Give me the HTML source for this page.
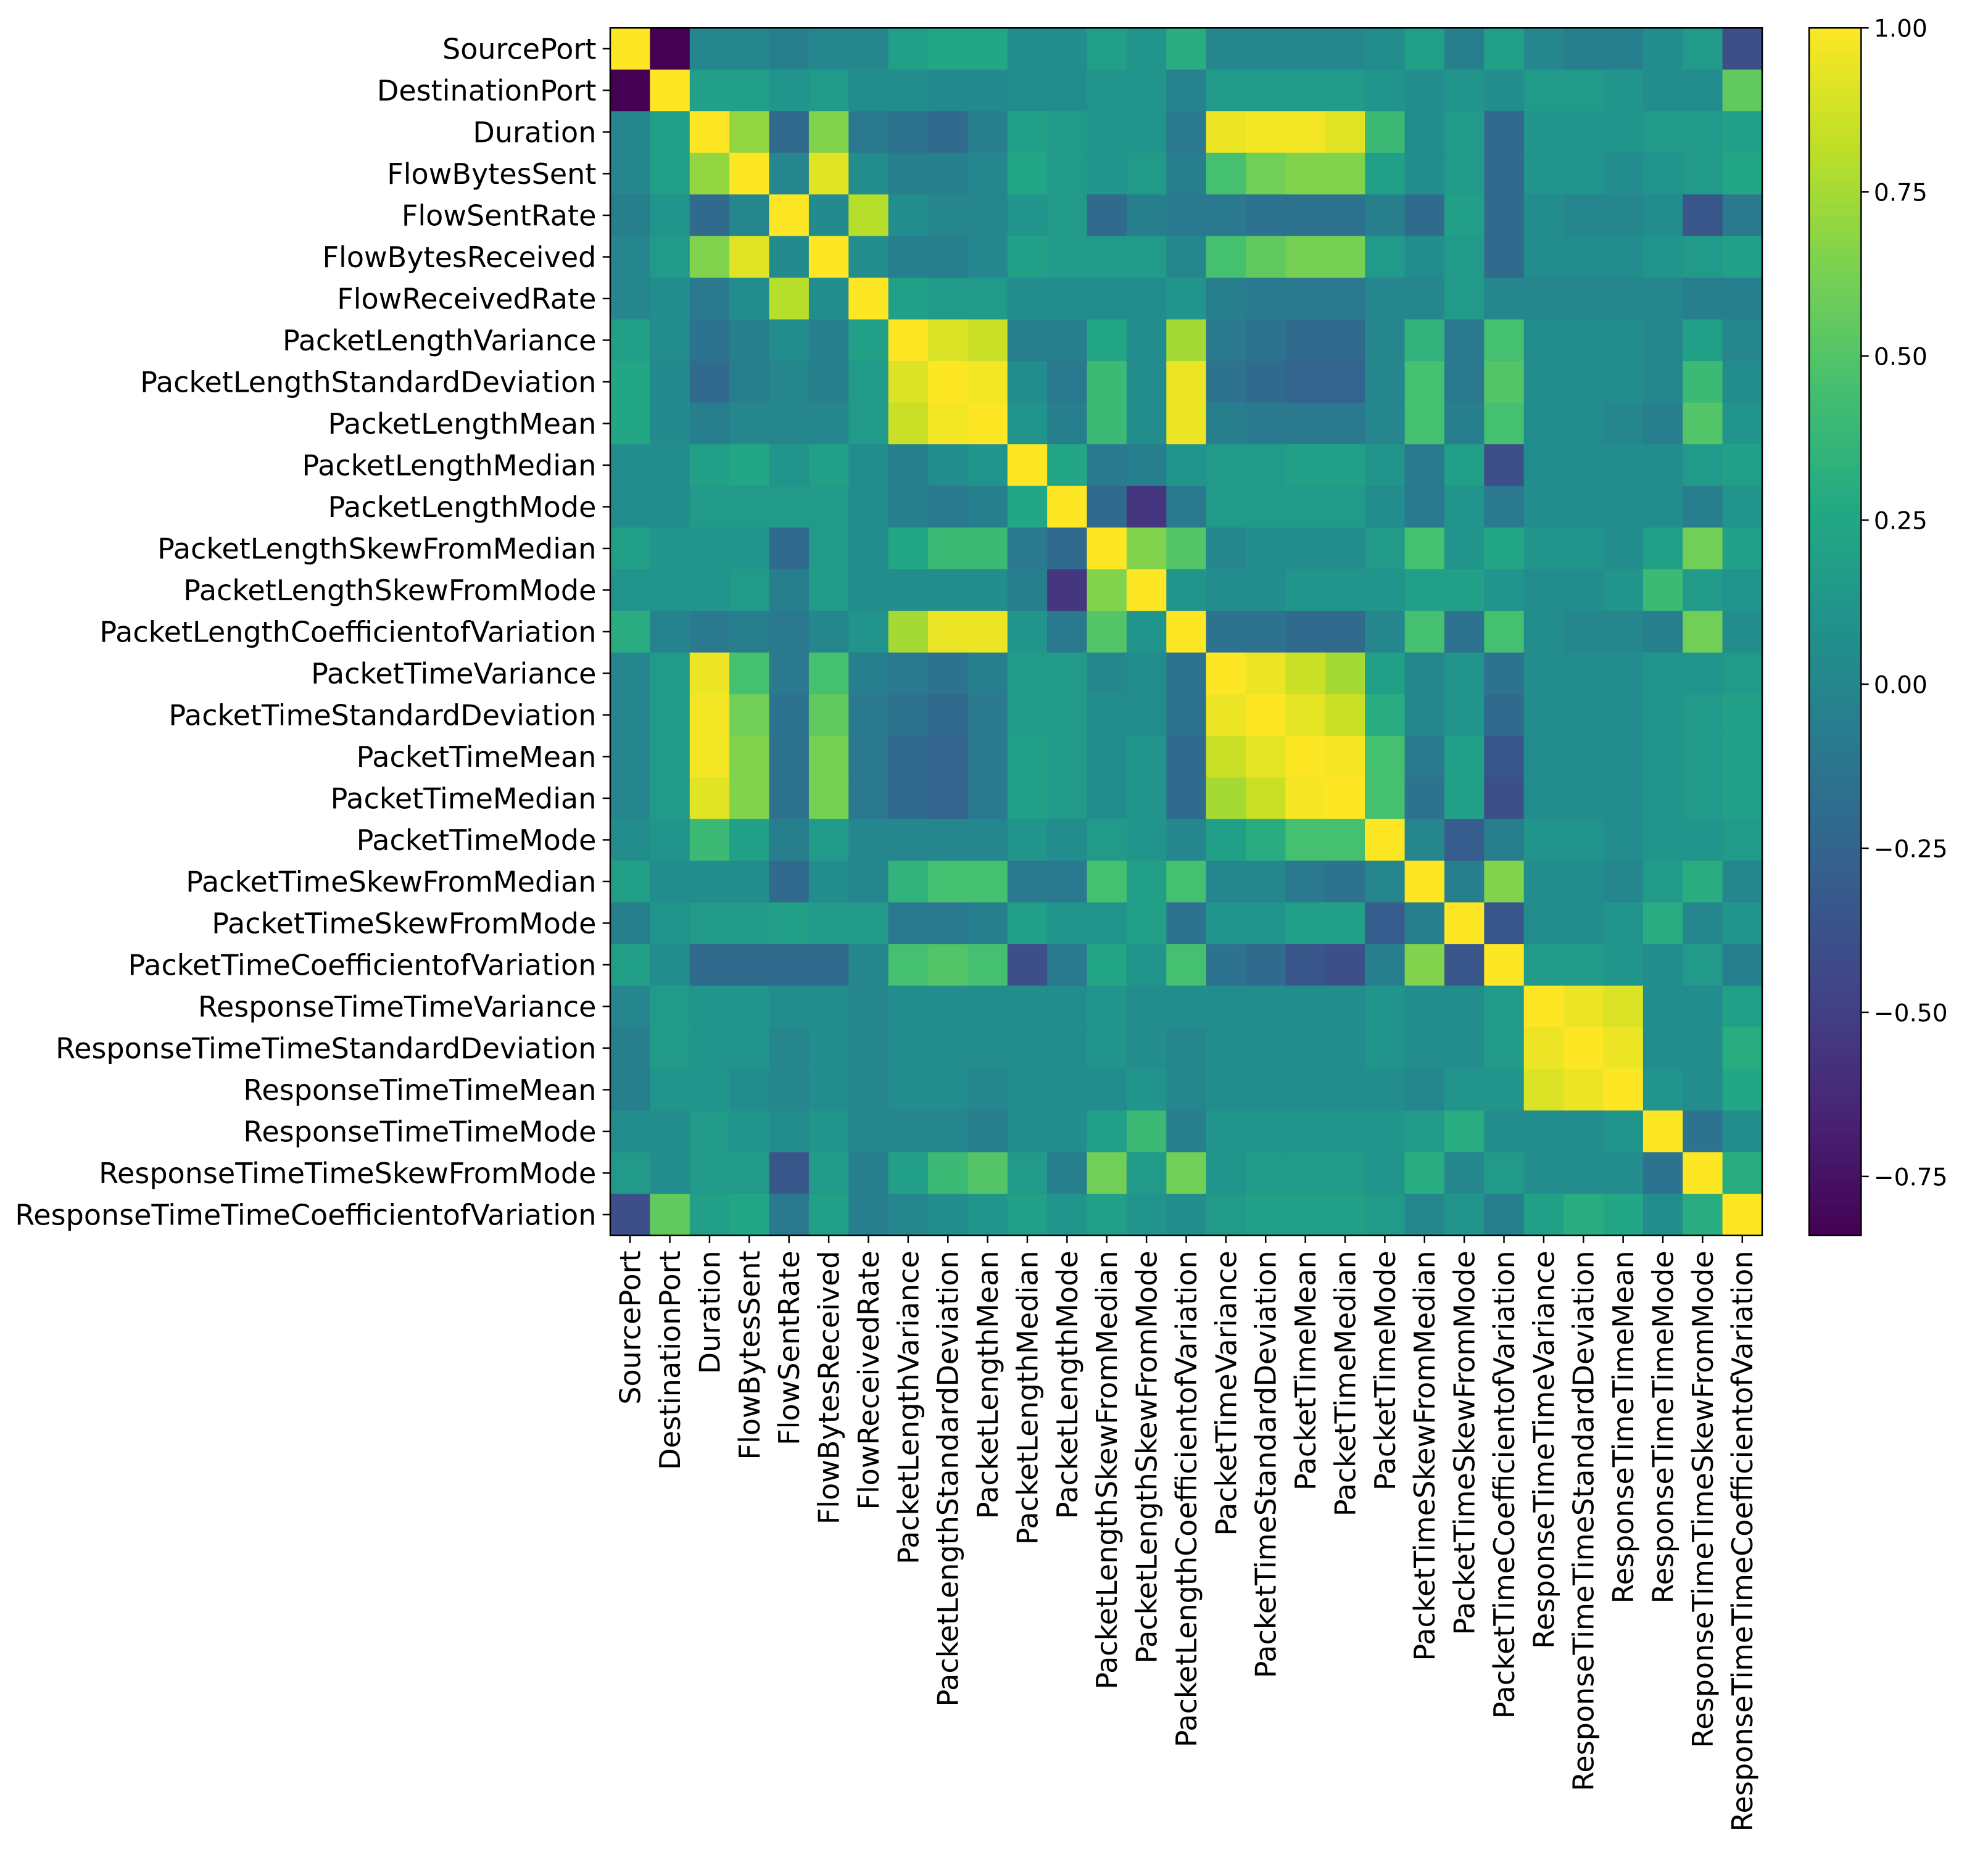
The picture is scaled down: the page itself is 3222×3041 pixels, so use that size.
<!DOCTYPE html>
<html><head><meta charset="utf-8">
<style>
html,body{margin:0;padding:0;background:#fff;}
svg{display:block;}
text{font-family:"DejaVu Sans","Liberation Sans",sans-serif;fill:#000;}
</style></head>
<body>
<svg id="chart" width="3222" height="3041" viewBox="0 0 1567 1479" xmlns="http://www.w3.org/2000/svg">
<rect width="1567" height="1479" fill="#fff"/>
</svg>
<script>
const labels = ["SourcePort","DestinationPort","Duration","FlowBytesSent","FlowSentRate","FlowBytesReceived","FlowReceivedRate","PacketLengthVariance","PacketLengthStandardDeviation","PacketLengthMean","PacketLengthMedian","PacketLengthMode","PacketLengthSkewFromMedian","PacketLengthSkewFromMode","PacketLengthCoefficientofVariation","PacketTimeVariance","PacketTimeStandardDeviation","PacketTimeMean","PacketTimeMedian","PacketTimeMode","PacketTimeSkewFromMedian","PacketTimeSkewFromMode","PacketTimeCoefficientofVariation","ResponseTimeTimeVariance","ResponseTimeTimeStandardDeviation","ResponseTimeTimeMean","ResponseTimeTimeMode","ResponseTimeTimeSkewFromMode","ResponseTimeTimeCoefficientofVariation"];
const values = [
[1,-0.84,0,0,-0.05,0,0,0.2,0.25,0.25,0.05,0.05,0.2,0.1,0.3,0,0,0,0,0.05,0.2,-0.05,0.2,0,-0.05,-0.05,0.05,0.15,-0.4],
[-0.84,1,0.2,0.2,0.1,0.15,0.05,0.05,0.03,0.03,0.05,0.05,0.1,0.1,-0.02,0.15,0.15,0.15,0.15,0.1,0.05,0.1,0.05,0.15,0.15,0.1,0.05,0.05,0.55],
[0,0.2,1,0.7,-0.2,0.65,-0.1,-0.15,-0.2,-0.05,0.2,0.15,0.1,0.1,-0.1,0.95,0.97,0.97,0.92,0.4,0.05,0.15,-0.2,0.1,0.1,0.1,0.15,0.15,0.2],
[0,0.2,0.7,1,0,0.92,0.05,-0.05,-0.05,0,0.25,0.15,0.1,0.15,-0.05,0.45,0.6,0.65,0.65,0.2,0.05,0.15,-0.2,0.1,0.1,0.05,0.1,0.15,0.25],
[-0.05,0.1,-0.2,0,1,0.03,0.8,0.05,0,0,0.1,0.15,-0.2,-0.05,-0.1,-0.1,-0.15,-0.15,-0.15,-0.05,-0.2,0.2,-0.2,0.05,0,0,0.05,-0.35,-0.1],
[0,0.15,0.65,0.92,0.03,1,0.05,-0.05,-0.05,0,0.2,0.15,0.15,0.15,0,0.45,0.55,0.62,0.62,0.15,0.05,0.15,-0.2,0.05,0.05,0.05,0.1,0.15,0.2],
[0,0.05,-0.1,0.05,0.8,0.05,1,0.2,0.15,0.15,0.05,0.05,0.05,0.05,0.1,-0.05,-0.1,-0.1,-0.1,0,0,0.15,0,0,0,0,0,-0.05,-0.05],
[0.2,0.05,-0.15,-0.05,0.05,-0.05,0.2,1,0.9,0.85,-0.05,-0.05,0.25,0.05,0.75,-0.1,-0.15,-0.2,-0.2,0,0.35,-0.1,0.45,0.05,0.05,0.05,0,0.2,0],
[0.25,0.03,-0.2,-0.05,0,-0.05,0.15,0.9,1,0.97,0.05,-0.1,0.4,0.05,0.95,-0.15,-0.2,-0.25,-0.25,0,0.45,-0.1,0.5,0.05,0.05,0.05,0,0.4,0.05],
[0.25,0.03,-0.05,0,0,0,0.15,0.85,0.97,1,0.1,-0.05,0.4,0.05,0.95,-0.05,-0.1,-0.1,-0.1,0,0.45,-0.05,0.45,0.05,0.05,0,-0.05,0.5,0.1],
[0.05,0.05,0.2,0.25,0.1,0.2,0.05,-0.05,0.05,0.1,1,0.25,-0.1,-0.05,0.1,0.15,0.15,0.2,0.2,0.1,-0.1,0.2,-0.4,0.05,0.05,0.05,0.05,0.15,0.2],
[0.05,0.05,0.15,0.15,0.15,0.15,0.05,-0.05,-0.1,-0.05,0.25,1,-0.2,-0.55,-0.1,0.15,0.15,0.15,0.15,0.05,-0.1,0.1,-0.1,0.05,0.05,0.05,0.05,-0.05,0.1],
[0.2,0.1,0.1,0.1,-0.2,0.15,0.05,0.25,0.4,0.4,-0.1,-0.2,1,0.65,0.5,0,0.05,0.05,0.05,0.15,0.45,0.1,0.25,0.1,0.1,0.05,0.2,0.6,0.2],
[0.1,0.1,0.1,0.15,-0.05,0.15,0.05,0.05,0.05,0.05,-0.05,-0.55,0.65,1,0.1,0.05,0.05,0.1,0.1,0.1,0.2,0.2,0.1,0.05,0.05,0.1,0.4,0.15,0.1],
[0.3,-0.02,-0.1,-0.05,-0.1,0,0.1,0.75,0.95,0.95,0.1,-0.1,0.5,0.1,1,-0.15,-0.15,-0.2,-0.2,0,0.45,-0.15,0.45,0.05,0,0,-0.05,0.6,0.05],
[0,0.15,0.95,0.45,-0.1,0.45,-0.05,-0.1,-0.15,-0.05,0.15,0.15,0,0.05,-0.15,1,0.95,0.85,0.75,0.2,0,0.1,-0.15,0.05,0.05,0.05,0.1,0.1,0.15],
[0,0.15,0.97,0.6,-0.15,0.55,-0.1,-0.15,-0.2,-0.1,0.15,0.15,0.05,0.05,-0.15,0.95,1,0.93,0.85,0.3,0,0.1,-0.2,0.05,0.05,0.05,0.1,0.15,0.2],
[0,0.15,0.97,0.65,-0.15,0.62,-0.1,-0.2,-0.25,-0.1,0.2,0.15,0.05,0.1,-0.2,0.85,0.93,1,0.98,0.45,-0.1,0.2,-0.35,0.05,0.05,0.05,0.1,0.15,0.2],
[0,0.15,0.92,0.65,-0.15,0.62,-0.1,-0.2,-0.25,-0.1,0.2,0.15,0.05,0.1,-0.2,0.75,0.85,0.98,1,0.45,-0.15,0.2,-0.4,0.05,0.05,0.05,0.1,0.15,0.2],
[0.05,0.1,0.4,0.2,-0.05,0.15,0,0,0,0,0.1,0.05,0.15,0.1,0,0.2,0.3,0.45,0.45,1,0,-0.3,-0.05,0.1,0.1,0.05,0.1,0.1,0.15],
[0.2,0.05,0.05,0.05,-0.2,0.05,0,0.35,0.45,0.45,-0.1,-0.1,0.45,0.2,0.45,0,0,-0.1,-0.15,0,1,-0.05,0.65,0.05,0.05,0,0.15,0.3,0],
[-0.05,0.1,0.15,0.15,0.2,0.15,0.15,-0.1,-0.1,-0.05,0.2,0.1,0.1,0.2,-0.15,0.1,0.1,0.2,0.2,-0.3,-0.05,1,-0.35,0.05,0.05,0.1,0.3,0,0.1],
[0.2,0.05,-0.2,-0.2,-0.2,-0.2,0,0.45,0.5,0.45,-0.4,-0.1,0.25,0.1,0.45,-0.15,-0.2,-0.35,-0.4,-0.05,0.65,-0.35,1,0.15,0.15,0.1,0.05,0.15,-0.05],
[0,0.15,0.1,0.1,0.05,0.05,0,0.05,0.05,0.05,0.05,0.05,0.1,0.05,0.05,0.05,0.05,0.05,0.05,0.1,0.05,0.05,0.15,1,0.95,0.9,0.05,0.05,0.2],
[-0.05,0.15,0.1,0.1,0,0.05,0,0.05,0.05,0.05,0.05,0.05,0.1,0.05,0,0.05,0.05,0.05,0.05,0.1,0.05,0.05,0.15,0.95,1,0.95,0.05,0.05,0.3],
[-0.05,0.1,0.1,0.05,0,0.05,0,0.05,0.05,0,0.05,0.05,0.05,0.1,0,0.05,0.05,0.05,0.05,0.05,0,0.1,0.1,0.9,0.95,1,0.1,0.05,0.25],
[0.05,0.05,0.15,0.1,0.05,0.1,0,0,0,-0.05,0.05,0.05,0.2,0.4,-0.05,0.1,0.1,0.1,0.1,0.1,0.15,0.3,0.05,0.05,0.05,0.1,1,-0.15,0.05],
[0.15,0.05,0.15,0.15,-0.35,0.15,-0.05,0.2,0.4,0.5,0.15,-0.05,0.6,0.15,0.6,0.1,0.15,0.15,0.15,0.1,0.3,0,0.15,0.05,0.05,0.05,-0.15,1,0.3],
[-0.4,0.55,0.2,0.25,-0.1,0.2,-0.05,0,0.05,0.1,0.2,0.1,0.2,0.1,0.05,0.15,0.2,0.2,0.2,0.15,0,0.1,-0.05,0.2,0.3,0.25,0.05,0.3,1]
];
const cbTicks = [1.0,0.75,0.5,0.25,0.0,-0.25,-0.5,-0.75];
const cbTickLabels = ["1.00","0.75","0.50","0.25","0.00","\u22120.25","\u22120.50","\u22120.75"];
const vmin = -0.84, vmax = 1.0;

const NS = "http://www.w3.org/2000/svg";
const svg = document.getElementById('chart');
const X0 = 481, X1 = 1389, Y0 = 22, Y1 = 974;
const n = labels.length;
const cw = (X1 - X0) / n, ch = (Y1 - Y0) / n;
const xScale = i => X0 + i * cw;
const yScale = i => Y0 + i * ch;
const CB_X = 1426, CB_W = 41;
const cbY = v => Y0 + (vmax - v) / (vmax - vmin) * (Y1 - Y0);
const FS = 22.4;

const stops = ["#440154","#482475","#414487","#355f8d","#2a788e","#21918c","#22a884","#44bf70","#7ad151","#bddf26","#fde725"];
function hex(h){return [parseInt(h.substr(1,2),16),parseInt(h.substr(3,2),16),parseInt(h.substr(5,2),16)];}
function viridis(v){
  let t = (v - vmin) / (vmax - vmin); t = Math.max(0, Math.min(1, t));
  const p = t * 10, i = Math.min(9, Math.floor(p)), f = p - i;
  const a = hex(stops[i]), b = hex(stops[i+1]);
  return 'rgb(' + a.map((c,k)=>Math.round(c + (b[k]-c)*f)).join(',') + ')';
}
function mk(tag, attrs){const e=document.createElementNS(NS,tag);for(const k in attrs)e.setAttribute(k,attrs[k]);return e;}

const gCells = mk('g',{});


svg.appendChild(gCells);
for (let r = 0; r < n; r++) {
  for (let c = 0; c < n; c++) {
    const rect = mk('rect',{x:xScale(c),y:yScale(r),width:cw+0.6,height:ch+0.6,fill:viridis(values[r][c])});
    
    
    gCells.appendChild(rect);
  }
}
const frame = mk('rect',{x:X0,y:Y0,width:X1-X0,height:Y1-Y0,fill:'none',stroke:'#000','stroke-width':1.2});


svg.appendChild(frame);

for (let i = 0; i < n; i++) {
  const yc = yScale(i) + ch/2;
  svg.appendChild(mk('line',{x1:X0-6,y1:yc,x2:X0,y2:yc,stroke:'#000','stroke-width':1.2}));
  const t = mk('text',{x:X0-11,y:yc+8,'text-anchor':'end','font-size':FS});
  t.textContent = labels[i];
  
  
  svg.appendChild(t);
  const xc = xScale(i) + cw/2;
  svg.appendChild(mk('line',{x1:xc,y1:Y1,x2:xc,y2:Y1+6,stroke:'#000','stroke-width':1.2}));
  const tx = mk('text',{x:0,y:0,'text-anchor':'end','font-size':FS,transform:'translate('+(xc+8)+','+(Y1+12)+') rotate(-90)'});
  tx.textContent = labels[i];
  
  
  svg.appendChild(tx);
}

const gcb = mk('g',{});


svg.appendChild(gcb);
const steps = 200;
for (let s = 0; s < steps; s++) {
  const v1 = vmax - (vmax - vmin) * s / steps;
  const y = cbY(v1);
  gcb.appendChild(mk('rect',{x:CB_X,y:y,width:CB_W,height:(Y1-Y0)/steps+0.5,fill:viridis(v1 - (vmax-vmin)/steps/2)}));
}
gcb.appendChild(mk('rect',{x:CB_X,y:Y0,width:CB_W,height:Y1-Y0,fill:'none',stroke:'#000','stroke-width':1.2}));
cbTicks.forEach((v,i)=>{
  const y = cbY(v);
  gcb.appendChild(mk('line',{x1:CB_X+CB_W,y1:y,x2:CB_X+CB_W+6,y2:y,stroke:'#000','stroke-width':1.2}));
  const t = mk('text',{x:CB_X+CB_W+10,y:y+7,'font-size':19});
  t.textContent = cbTickLabels[i];
  
  
  gcb.appendChild(t);
});
</script>
</body></html>
